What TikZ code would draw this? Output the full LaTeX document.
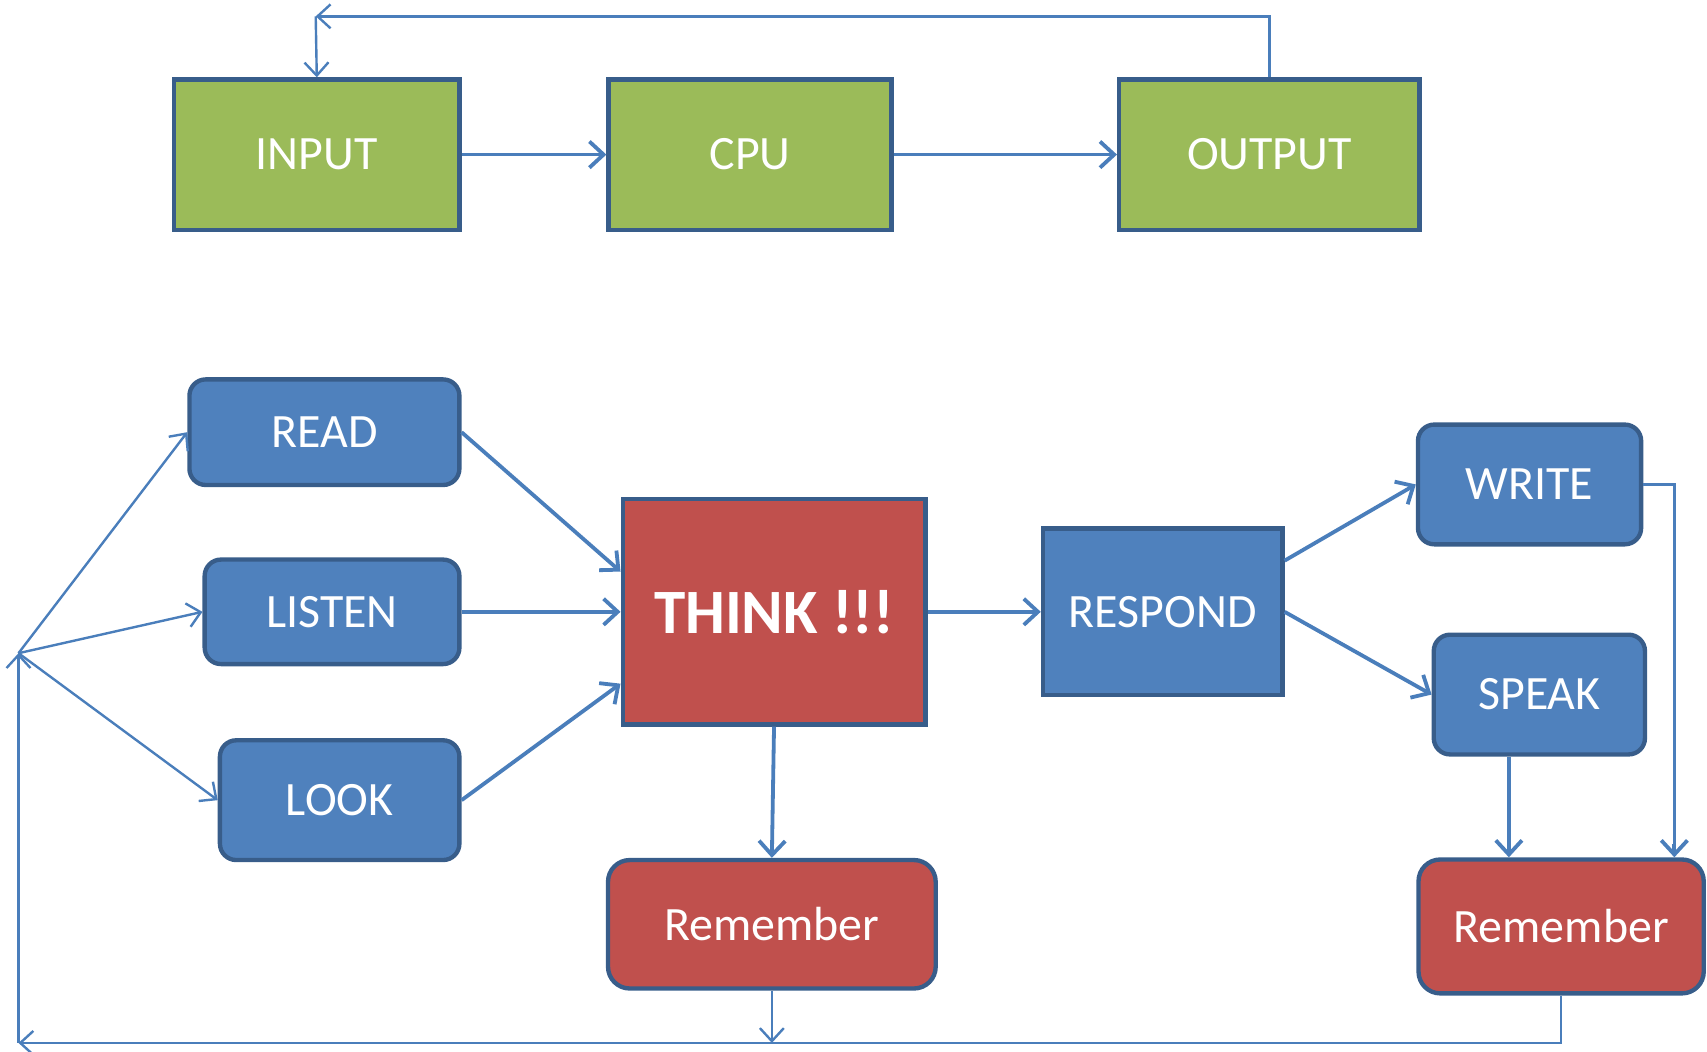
\documentclass[tikz,border=0pt]{standalone}
\usepackage{fontspec}
\setmainfont{Carlito}
\usetikzlibrary{arrows.meta}

\definecolor{boxgreen}{HTML}{9BBB59}
\definecolor{boxblue}{HTML}{4F81BD}
\definecolor{boxred}{HTML}{C0504D}
\definecolor{boxline}{HTML}{385D8A}
\definecolor{arrowblue}{HTML}{4A7EBB}

\tikzset{
    box/.style={rectangle, draw=boxline, line width=4pt, text=white,
        font=\fontsize{44pt}{52pt}\selectfont, inner sep=0pt},
    greenbox/.style={box, fill=boxgreen, minimum width=262pt, minimum height=138pt},
    bluebox/.style={box, fill=boxblue, rounded corners=15pt},
    redbox/.style={box, fill=boxred, rounded corners=20pt},
    thickarrow/.style={draw=arrowblue, line width=3.5pt,
        -{Straight Barb[length=13pt, width=24pt]}},
    thinarrow/.style={draw=arrowblue, line width=2.2pt,
        -{Straight Barb[length=12pt, width=22pt]}},
    thinline/.style={draw=arrowblue, line width=2.2pt}
}

\begin{document}
\begin{tikzpicture}[x=1pt, y=-1pt]
        \useasboundingbox (0,0) rectangle (1568,966);

        % computer
        \node[greenbox] (input) at (291,142) {INPUT};
        \node[greenbox, minimum width=260pt] (cpu) at (689,142) {CPU};
        \node[greenbox, minimum width=276pt] (output) at (1166,142) {OUTPUT};

        \draw[thickarrow] (input.east) -- (cpu.west);
        \draw[thickarrow] (cpu.east) -- (output.west);

        \coordinate (topleft) at (290,15);
        \draw[thinarrow] (output.north) |- (topleft);
        \draw[thinarrow] (topleft) -- (input.north);

        % human
        \node[bluebox, minimum width=248pt, minimum height=97pt] (read) at (298,397) {READ};
        \node[bluebox, minimum width=234pt, minimum height=96pt] (listen) at (305,562) {LISTEN};
        \node[bluebox, minimum width=220pt, minimum height=110pt] (look) at (312,735) {LOOK};

        \node[box, fill=boxred, minimum width=278pt, minimum height=207pt,
            font=\fontsize{58pt}{66pt}\selectfont\bfseries] (think) at (711,562) {THINK !!!};
        \node[box, fill=boxblue, minimum width=220pt, minimum height=153pt] (respond) at (1068,562) {RESPOND};

        \node[bluebox, minimum width=205pt, minimum height=110pt] (write) at (1405,445) {WRITE};
        \node[bluebox, minimum width=194pt, minimum height=110pt] (speak) at (1414,638) {SPEAK};

        \node[redbox, minimum width=301pt, minimum height=118pt] (remember) at (709,849) {Remember};
        \node[redbox, minimum width=262pt, minimum height=123pt] (rememberout) at (1434,851) {Remember};

        \coordinate (hub) at (17,600);
        \coordinate (bottomleft) at (17,958);

        \draw[thinarrow] (hub) -- (read.west);
        \draw[thinarrow] (hub) -- (listen.west);
        \draw[thinarrow] (hub) -- (look.west);

        \draw[thickarrow] (read.east) -- ([yshift=37pt]think.west);
        \draw[thickarrow] (listen.east) -- (think.west);
        \draw[thickarrow] (look.east) -- ([yshift=-66pt]think.west);

        \draw[thickarrow] (think.east) -- (respond.west);
        \draw[thickarrow] (think.south) -- (remember.north);

        \draw[thickarrow] ([yshift=47pt]respond.east) -- (write.west);
        \draw[thickarrow] (respond.east) -- (speak.west);

        \draw[thickarrow] ([xshift=-28pt]speak.south) -- ([xshift=-48pt]rememberout.north);
        \draw[thinline] (write.east) -| ([xshift=104pt, yshift=12pt]rememberout.north);
        \draw[thickarrow] ([xshift=104pt, yshift=12pt]rememberout.north) -- ([xshift=104pt]rememberout.north);

        % back to the start
        \draw[thinarrow] (rememberout.south) |- (bottomleft);
        \draw[thinarrow] (remember.south) -- (remember.south |- bottomleft);
        \draw[thinarrow] (bottomleft) -- (hub);
    \end{tikzpicture}
\end{document}
